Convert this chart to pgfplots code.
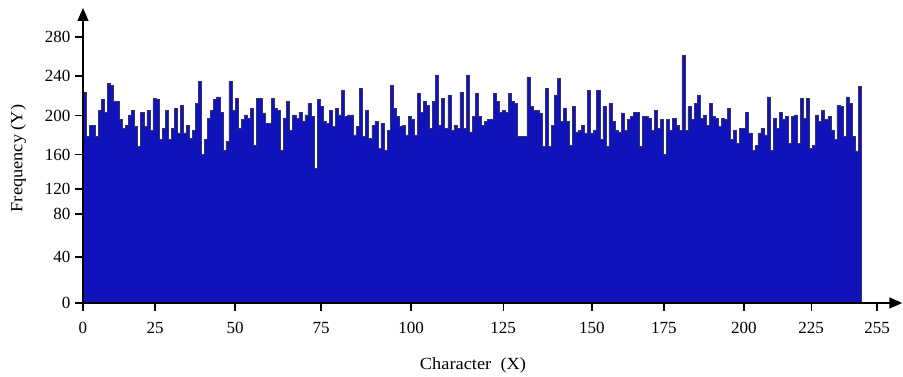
\documentclass[border=0pt]{standalone}
\usepackage{pgfplots}
\pgfplotsset{compat=1.18}
\usepackage{fontspec}
\setmainfont{Liberation Serif}
\usepackage{graphicx}
\usetikzlibrary{arrows.meta}
\definecolor{barblue}{RGB}{16,18,186}
\definecolor{baredge}{RGB}{50,50,110}
\newcommand\sx[1]{\scalebox{1.08}[1]{#1}}
\pgfplotstableread{
x y
0 222
1 175
2 187
3 187
4 175
5 203
6 214
7 201
8 231
9 229
10 212
11 212
12 193
13 184
14 187
15 198
16 203
17 186
18 165
19 201
20 186
21 203
22 182
23 215
24 214
25 172
26 184
27 203
28 172
29 184
30 205
31 179
32 208
33 179
34 187
35 173
36 182
37 210
38 233
39 156
40 172
41 194
42 203
43 214
44 217
45 201
46 161
47 170
48 233
49 203
50 215
51 184
52 193
53 198
54 194
55 205
56 166
57 215
58 215
59 200
60 189
61 189
62 215
63 205
64 203
65 161
66 194
67 212
68 182
69 198
70 194
71 201
72 191
73 198
74 210
75 196
76 142
77 214
78 207
79 191
80 189
81 203
82 186
83 205
84 198
85 224
86 196
87 198
88 198
89 177
90 186
91 226
92 175
93 203
94 173
95 187
96 191
97 163
98 189
99 161
100 182
101 229
102 205
103 196
104 186
105 187
106 177
107 196
108 193
109 177
110 221
111 201
112 212
113 208
114 184
115 212
116 240
117 187
118 215
119 184
120 219
121 182
122 187
123 184
124 222
125 184
126 240
127 180
128 196
129 221
130 196
131 187
132 191
133 193
134 193
135 221
136 212
137 201
138 203
139 201
140 221
141 212
142 210
143 175
144 175
145 175
146 238
147 207
148 203
149 203
150 200
151 165
152 226
153 165
154 187
155 219
156 236
157 191
158 205
159 191
160 166
161 207
162 180
163 182
164 187
165 179
166 224
167 179
168 182
169 224
170 172
171 207
172 165
173 210
174 191
175 182
176 180
177 200
178 182
179 193
180 196
181 201
182 201
183 165
184 196
185 196
186 194
187 182
188 203
189 184
190 193
191 156
192 193
193 182
194 194
195 187
196 182
197 261
198 182
199 207
200 193
201 210
202 219
203 194
204 198
205 187
206 210
207 196
208 194
209 186
210 194
211 193
212 205
213 172
214 182
215 168
216 184
217 184
218 201
219 179
220 161
221 166
222 179
223 184
224 177
225 217
226 161
227 194
228 184
229 201
230 193
231 196
232 168
233 196
234 198
235 168
236 215
237 194
238 215
239 163
240 166
241 198
242 191
243 203
244 193
245 196
246 182
247 172
248 208
249 207
250 175
251 217
252 210
253 175
254 160
255 228
256 228
}\freq
\begin{document}
\begin{tikzpicture}
\begin{axis}[
  scale only axis, width=819.3pt, height=295pt,
  xmin=0, xmax=269.5, ymin=0, ymax=310.5,
  axis lines=left,
  axis line style={line width=1.3pt, -{Triangle[width=11pt,length=13pt]}},
  tick style={line width=1.2pt, black},
  tick align=outside, major tick length=8pt,
  xtick={0,23.7,50,78.3,107.9,138.2,167.4,191.1,217.4,239.5,261.2},
  xticklabels={0,25,50,75,100,125,150,175,200,225,255},
  ytick={0,48.4,93.7,120,156,197,239,280},
  yticklabels={0,40,80,120,160,200,240,280},
  tick label style={font=\fontsize{17}{20}\selectfont},
  xticklabel style={yshift=-8pt},
  yticklabel style={xshift=-1pt},
  xlabel={\sx{Character\ \ (X)}},
  ylabel={\sx{Frequency (Y)}},
  label style={font=\fontsize{17}{20}\selectfont},
  xlabel style={at={(axis description cs:0.476,-0.21)}, anchor=center},
  ylabel style={at={(axis description cs:-0.079,0.49)}, anchor=center, rotate=0},
  clip=false,
  axis on top,
]
\addplot[const plot, fill=barblue, draw=none] table[x=x, y=y] {\freq} \closedcycle;
\addplot[const plot, draw=baredge, line width=0.6pt] table[x=x, y=y] {\freq};
\draw[baredge, line width=0.6pt] (axis cs:256,0) -- (axis cs:256,228);
\coordinate (O) at (axis cs:0,0);
\end{axis}
\pgfresetboundingbox
\path[use as bounding box] ([shift={(-83pt,-74pt)}]O) rectangle ([shift={(820pt,303pt)}]O);
\end{tikzpicture}
\end{document}
